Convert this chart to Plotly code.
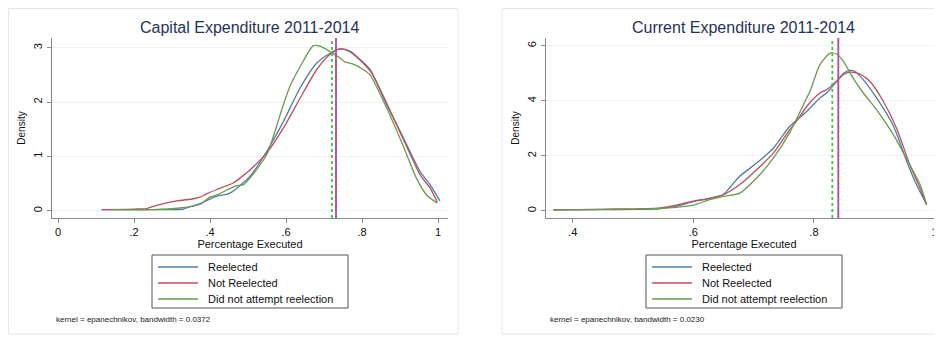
import plotly.graph_objects as go

# The page body adds an 8px margin, so the figure is sized to the visible area
OFF = 8
SCREEN_W, SCREEN_H = 942, 338
W, H = SCREEN_W - OFF, SCREEN_H - OFF

# ---------------- data ----------------
cap_title = "Capital Expenditure 2011-2014"
cur_title = "Current Expenditure 2011-2014"
series_names = ["Reelected", "Not Reelected", "Did not attempt reelection"]

cap_x_re = [0.115, 0.20, 0.30, 0.33, 0.347, 0.36, 0.38, 0.418, 0.444, 0.461, 0.48, 0.505, 0.549, 0.593, 0.637,
            0.681, 0.716, 0.742, 0.768, 0.786, 0.821, 0.865, 0.909, 0.953, 0.979, 1.005]
cap_y_re = [0.02, 0.02, 0.02, 0.03, 0.07, 0.10, 0.15, 0.27, 0.30, 0.36, 0.47, 0.63, 1.09, 1.64, 2.26,
            2.72, 2.90, 2.98, 2.94, 2.84, 2.60, 1.95, 1.34, 0.72, 0.48, 0.18]

cap_x_nr = [0.115, 0.20, 0.233, 0.26, 0.312, 0.356, 0.374, 0.391, 0.418, 0.44, 0.461, 0.479, 0.505, 0.549,
            0.593, 0.637, 0.681, 0.716, 0.742, 0.768, 0.821, 0.865, 0.909, 0.953, 0.979, 0.998]
cap_y_nr = [0.02, 0.03, 0.04, 0.10, 0.18, 0.22, 0.25, 0.31, 0.39, 0.45, 0.51, 0.60, 0.75, 1.06,
            1.52, 2.07, 2.60, 2.88, 2.98, 2.93, 2.58, 1.98, 1.31, 0.66, 0.42, 0.16]

cap_x_dn = [0.145, 0.25, 0.321, 0.35, 0.374, 0.40, 0.418, 0.453, 0.47, 0.488, 0.505, 0.549, 0.575, 0.593,
            0.611, 0.637, 0.672, 0.689, 0.716, 0.742, 0.755, 0.777, 0.803, 0.821, 0.865, 0.909, 0.943,
            0.970, 0.998]
cap_y_dn = [0.02, 0.02, 0.05, 0.08, 0.12, 0.25, 0.29, 0.41, 0.46, 0.48, 0.60, 1.03, 1.55, 1.95,
            2.30, 2.65, 3.04, 3.03, 2.93, 2.81, 2.74, 2.70, 2.60, 2.50, 1.89, 1.18, 0.60,
            0.29, 0.14]

cur_x_re = [0.368, 0.45, 0.50, 0.545, 0.572, 0.60, 0.627, 0.65, 0.662, 0.677, 0.705, 0.733, 0.760, 0.788,
            0.810, 0.821, 0.840, 0.849, 0.860, 0.868, 0.882, 0.904, 0.932, 0.954, 0.970, 0.987]
cur_y_re = [0.03, 0.04, 0.05, 0.08, 0.17, 0.33, 0.45, 0.60, 0.88, 1.25, 1.73, 2.28, 3.07, 3.61,
            4.10, 4.28, 4.76, 5.00, 5.10, 5.07, 4.76, 4.10, 3.07, 1.79, 0.95, 0.22]

cur_x_nr = [0.368, 0.45, 0.50, 0.545, 0.572, 0.60, 0.627, 0.65, 0.677, 0.705, 0.733, 0.760, 0.771, 0.788,
            0.810, 0.821, 0.840, 0.849, 0.860, 0.876, 0.893, 0.915, 0.937, 0.959, 0.976, 0.987]
cur_y_nr = [0.03, 0.05, 0.06, 0.10, 0.20, 0.35, 0.45, 0.58, 0.95, 1.49, 2.10, 2.95, 3.25, 3.79,
            4.28, 4.40, 4.76, 4.95, 5.04, 4.97, 4.70, 3.98, 3.00, 1.67, 0.82, 0.22]

cur_x_dn = [0.368, 0.45, 0.50, 0.545, 0.572, 0.60, 0.627, 0.65, 0.677, 0.705, 0.733, 0.760, 0.788, 0.7935,
            0.810, 0.827, 0.838, 0.849, 0.865, 0.882, 0.904, 0.932, 0.959, 0.976, 0.987]
cur_y_dn = [0.03, 0.05, 0.06, 0.08, 0.12, 0.20, 0.40, 0.52, 0.64, 1.19, 1.92, 2.85, 4.10, 4.34,
            5.31, 5.73, 5.70, 5.43, 4.82, 4.28, 3.67, 2.76, 1.67, 0.95, 0.22]

# group means (vertical reference lines): Reelected, Not Reelected, Did not attempt
cap_means = [0.7316, 0.7316, 0.7210]
cur_means = [0.8405, 0.8405, 0.8305]

cap_xticks = [0, 0.2, 0.4, 0.6, 0.8, 1]
cap_xtext = ["0", ".2", ".4", ".6", ".8", "1"]
cap_yticks = [0, 1, 2, 3]
cur_xticks = [0.4, 0.6, 0.8, 1]
cur_xtext = [".4", ".6", ".8", "1"]
cur_yticks = [0, 2, 4, 6]

cap_note = "kernel = epanechnikov, bandwidth = 0.0372"
cur_note = "kernel = epanechnikov, bandwidth = 0.0230"

# ---------------- style ----------------
FONT = "Liberation Sans, Arial, sans-serif"
curve_colors = ["#4f7eab", "#c04f5c", "#6c9a4f"]
vline_colors = ["#5a6cff", "#e8405c", "#48c048"]
vline_dash = ["4px,3px", "solid", "dot"]
vline_width = [1.2, 1.8, 1.8]


def px_x(p):
    """screen pixel -> paper x"""
    return (p - OFF) / W


def px_y(p):
    """screen pixel -> paper y"""
    return 1 - (p - OFF) / H


fig = go.Figure()

panels = [
    dict(xs=[cap_x_re, cap_x_nr, cap_x_dn], ys=[cap_y_re, cap_y_nr, cap_y_dn], xa="x", ya="y",
         means=cap_means, legend_left=152, title=cap_title, title_cx=250, note=cap_note, note_x=54),
    dict(xs=[cur_x_re, cur_x_nr, cur_x_dn], ys=[cur_y_re, cur_y_nr, cur_y_dn], xa="x2", ya="y2",
         means=cur_means, legend_left=646, title=cur_title, title_cx=743, note=cur_note, note_x=548),
]

for p in panels:
    for i in range(3):
        fig.add_trace(go.Scatter(
            x=p["xs"][i], y=p["ys"][i], mode="lines", name=series_names[i],
            line=dict(color=curve_colors[i], width=1.3, shape="spline", smoothing=0.7),
            xaxis=p["xa"], yaxis=p["ya"], showlegend=False, hoverinfo="skip"))

# vertical mean lines (blue dashed drawn last so it sits on the red line)
for p in panels:
    for i in [2, 1, 0]:
        fig.add_shape(type="line", xref=p["xa"], yref=p["ya"] + " domain",
                      x0=p["means"][i], x1=p["means"][i], y0=0, y1=1,
                      line=dict(color=vline_colors[i], width=vline_width[i], dash=vline_dash[i]),
                      layer="above")

axis_common = dict(showline=True, linecolor="#8a8a8a", linewidth=1.3, ticks="outside", ticklen=4,
                   tickcolor="#8a8a8a", tickwidth=1, tickfont=dict(family=FONT, size=11, color="#111"),
                   zeroline=False, mirror=False, automargin=False, ticklabeloverflow="allow")

fig.update_layout(
    width=W, height=H, margin=dict(l=0, r=0, t=0, b=0, autoexpand=False),
    paper_bgcolor="white", plot_bgcolor="white",
    font=dict(family=FONT, color="#111"),
    showlegend=False,
    xaxis=dict(domain=[px_x(52), px_x(448)], range=[-0.0158, 1.0263], tickvals=cap_xticks,
               ticktext=cap_xtext, showgrid=False, anchor="y",
               title=dict(text="Percentage Executed", font=dict(size=11), standoff=2), **axis_common),
    yaxis=dict(domain=[px_y(218), px_y(38)], range=[-0.1344, 3.18], tickvals=cap_yticks, tickangle=-90,
               showgrid=True, gridcolor="#edf3f3", gridwidth=1, anchor="x",
               title=dict(text="Density", font=dict(size=10), standoff=4), **axis_common),
    xaxis2=dict(domain=[px_x(546), 1.0], range=[0.3557, 1.0124], tickvals=cur_xticks,
                ticktext=cur_xtext, showgrid=False, anchor="y2",
                title=dict(text="Percentage Executed", font=dict(size=11), standoff=2), **axis_common),
    yaxis2=dict(domain=[px_y(218), px_y(38)], range=[-0.2655, 6.28], tickvals=cur_yticks, tickangle=-90,
                showgrid=True, gridcolor="#edf3f3", gridwidth=1, anchor="x2",
                title=dict(text="Density", font=dict(size=10), standoff=4), **axis_common),
)

# panel frames
fig.add_shape(type="rect", xref="paper", yref="paper", x0=px_x(8.5), x1=px_x(458), y0=px_y(334), y1=px_y(8.5),
              line=dict(color="#dfe8ec", width=1), layer="below")
fig.add_shape(type="rect", xref="paper", yref="paper", x0=px_x(502), x1=px_x(960), y0=px_y(334), y1=px_y(8.5),
              line=dict(color="#dfe8ec", width=1), layer="below")

for p in panels:
    # title
    fig.add_annotation(text=p["title"], x=px_x(p["title_cx"]), y=px_y(27), xref="paper", yref="paper",
                       showarrow=False, xanchor="center", yanchor="middle",
                       font=dict(family=FONT, size=16, color="#24335c"))
    # note
    fig.add_annotation(text=p["note"], x=px_x(p["note_x"]), y=px_y(319), xref="paper", yref="paper",
                       showarrow=False, xanchor="left", yanchor="middle",
                       font=dict(family=FONT, size=8, color="#222"))
    # legend box (Stata style: 16px rows)
    L = p["legend_left"]
    fig.add_shape(type="rect", xref="paper", yref="paper", x0=px_x(L), x1=px_x(L + 196),
                  y0=px_y(308), y1=px_y(255), line=dict(color="#555", width=1), fillcolor="white",
                  layer="above")
    for i in range(3):
        yy = 267 + 16 * i
        fig.add_shape(type="line", xref="paper", yref="paper", x0=px_x(L + 6), x1=px_x(L + 46),
                      y0=px_y(yy), y1=px_y(yy), line=dict(color=curve_colors[i], width=1.3), layer="above")
        fig.add_annotation(text=series_names[i], x=px_x(L + 54), y=px_y(yy), xref="paper", yref="paper",
                           showarrow=False, xanchor="left", yanchor="middle",
                           font=dict(family=FONT, size=11, color="#111"))

fig.write_html("out.html")
